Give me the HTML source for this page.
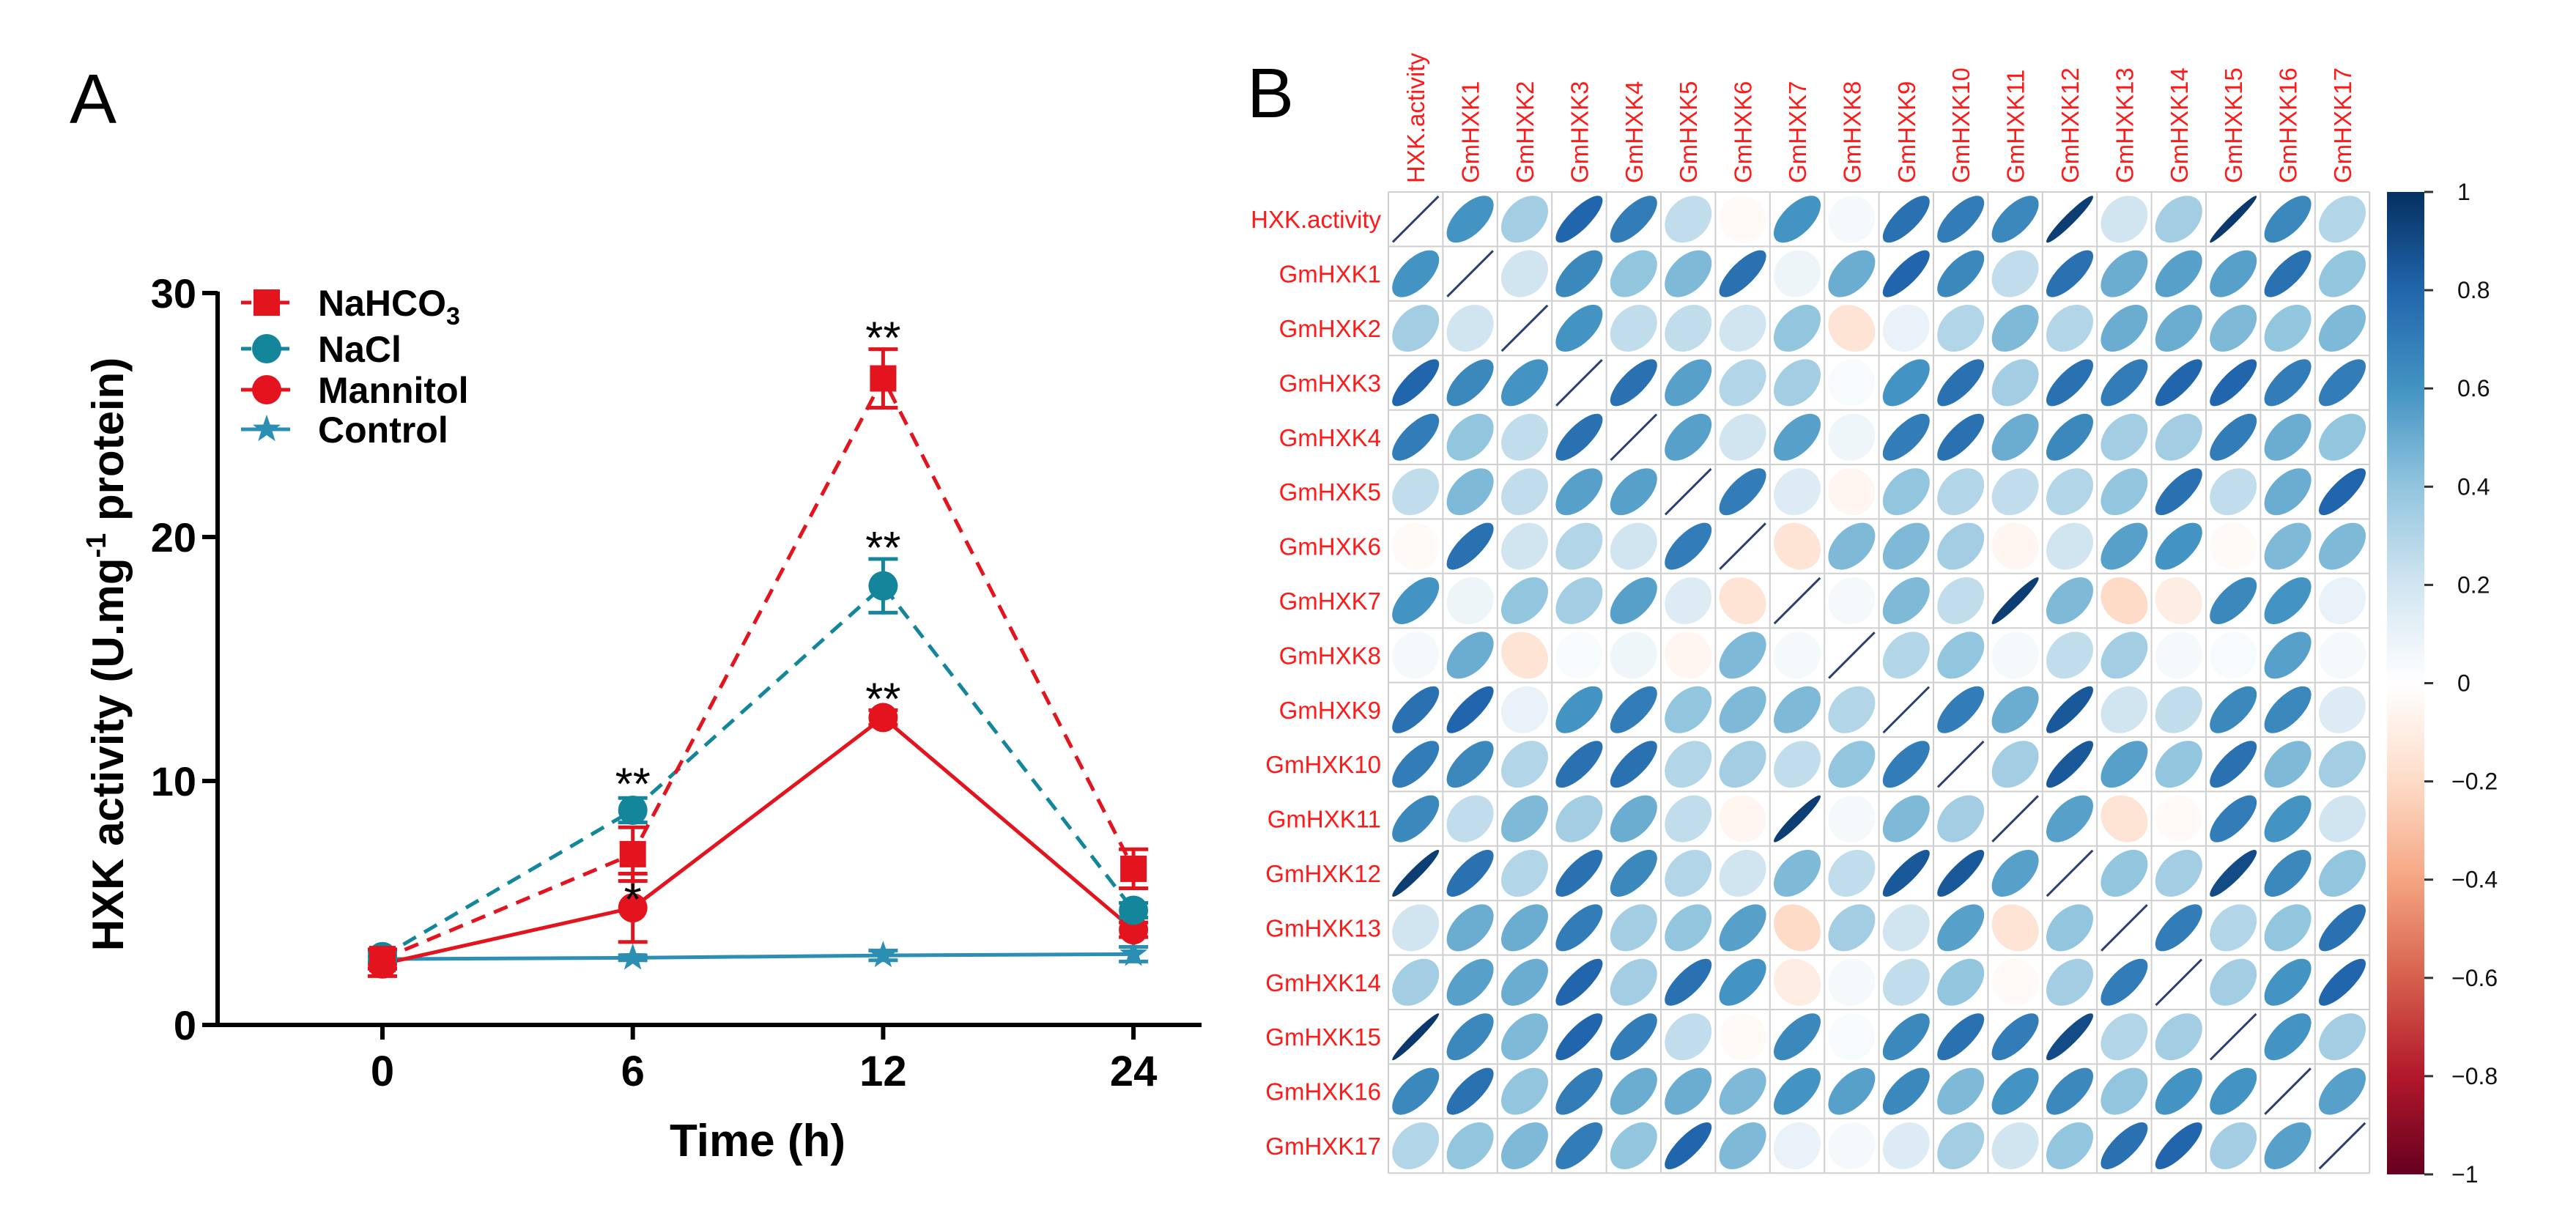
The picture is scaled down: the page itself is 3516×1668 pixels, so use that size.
<!DOCTYPE html>
<html><head><meta charset="utf-8"><style>
html,body{margin:0;padding:0;background:#fff}
svg{display:block}
text{font-family:"Liberation Sans",Arial,sans-serif}
</style></head><body>
<svg id="fig" width="3516" height="1668" viewBox="0 0 3516 1668" xmlns="http://www.w3.org/2000/svg">
<g id="panelA"></g>
<g id="panelB"></g>
</svg>
<script>
// ---------- Panel A data ----------
const timeLabels = ["0","6","12","24"];
const yTicks = [0,10,20,30];
const nahco3 = [2.7, 7.0, 26.5, 6.4];
const nahco3Err = [0.4, 1.1, 1.2, 0.8];
const nacl = [2.8, 8.8, 18.0, 4.7];
const naclErr = [0.2, 0.5, 1.1, 0.3];
const mannitol = [2.5, 4.8, 12.6, 3.9];
const mannitolErr = [0.5, 1.4, 0.3, 0.3];
const control = [2.7, 2.75, 2.85, 2.9];
const controlErr = [0.1, 0.1, 0.2, 0.3];
const sigLabels = [["**",1,"nacl"],["*",1,"mannitol"],["**",2,"nahco3"],["**",2,"nacl"],["**",2,"mannitol"]];

// ---------- Panel B data ----------
const geneNames = ["HXK.activity","GmHXK1","GmHXK2","GmHXK3","GmHXK4","GmHXK5","GmHXK6","GmHXK7","GmHXK8","GmHXK9","GmHXK10","GmHXK11","GmHXK12","GmHXK13","GmHXK14","GmHXK15","GmHXK16","GmHXK17"];
const corrMatrix = [
[1,.6,.35,.8,.7,.25,-.03,.6,.05,.75,.7,.65,.95,.2,.35,.97,.65,.3],
[.6,1,.2,.65,.4,.45,.75,.08,.5,.8,.65,.25,.75,.5,.55,.55,.75,.4],
[.35,.2,1,.6,.25,.25,.2,.4,-.15,.1,.3,.45,.3,.5,.5,.45,.4,.45],
[.8,.65,.6,1,.75,.55,.3,.35,.03,.6,.75,.35,.75,.7,.8,.8,.7,.7],
[.7,.4,.25,.75,1,.55,.2,.55,.07,.7,.75,.5,.65,.35,.35,.7,.5,.4],
[.25,.45,.25,.55,.55,1,.7,.15,-.05,.4,.3,.25,.3,.4,.75,.25,.5,.8],
[-.03,.75,.2,.3,.2,.7,1,-.15,.45,.45,.35,-.05,.2,.55,.6,-.03,.45,.45],
[.6,.08,.4,.35,.55,.15,-.15,1,.05,.45,.25,.95,.45,-.2,-.1,.65,.6,.1],
[.05,.5,-.15,.03,.07,-.05,.45,.05,1,.3,.4,.05,.25,.35,.05,.03,.55,.05],
[.75,.8,.1,.6,.7,.4,.45,.45,.3,1,.7,.5,.85,.2,.25,.65,.65,.15],
[.7,.65,.3,.75,.75,.3,.35,.25,.4,.7,1,.35,.85,.55,.4,.75,.45,.35],
[.65,.25,.45,.35,.5,.25,-.05,.95,.05,.45,.35,1,.55,-.15,-.03,.7,.6,.2],
[.95,.75,.3,.75,.65,.3,.2,.45,.25,.85,.85,.55,1,.4,.35,.9,.65,.4],
[.2,.5,.5,.7,.35,.4,.55,-.2,.35,.2,.55,-.15,.4,1,.7,.3,.4,.75],
[.35,.55,.5,.8,.35,.75,.6,-.1,.05,.25,.4,-.03,.35,.7,1,.35,.6,.8],
[.97,.65,.45,.8,.7,.25,-.03,.65,.03,.65,.75,.7,.9,.3,.35,1,.6,.35],
[.65,.75,.4,.7,.5,.5,.45,.6,.55,.65,.45,.6,.65,.4,.6,.6,1,.55],
[.3,.4,.45,.7,.4,.8,.45,.1,.05,.15,.35,.2,.4,.75,.8,.35,.55,1]];
const cbTicks = [1,0.8,0.6,0.4,0.2,0,-0.2,-0.4,-0.6,-0.8,-1];

const NS="http://www.w3.org/2000/svg";
function mk(parent,tag,attrs,txt){const e=document.createElementNS(NS,tag);for(const k in attrs)e.setAttribute(k,attrs[k]);if(txt!==undefined)e.textContent=txt;parent.appendChild(e);return e;}

// ===== Panel A =====
const A=document.getElementById('panelA');
const xA=i=>522+i*341.7;
const yA=v=>1399-v*(999/30);
const RED="#E3141E", TEAL="#13869C", CTRL="#2A8FB2";

let t=mk(A,'text',{x:95,y:168,'font-size':96,fill:'#000'},'A');



let ax=mk(A,'line',{x1:297,y1:398,x2:297,y2:1401,stroke:'#000','stroke-width':6});


ax=mk(A,'line',{x1:276,y1:1399,x2:1640,y2:1399,stroke:'#000','stroke-width':6});


yTicks.forEach(v=>{
  let l=mk(A,'line',{x1:276,y1:yA(v),x2:297,y2:yA(v),stroke:'#000','stroke-width':6});
  
  
  let tt=mk(A,'text',{x:268,y:yA(v)+20,'font-size':56,'font-weight':'bold','text-anchor':'end'},String(v));
  
  
});
timeLabels.forEach((lab,i)=>{
  let l=mk(A,'line',{x1:xA(i),y1:1399,x2:xA(i),y2:1419,stroke:'#000','stroke-width':6});
  
  
  let tt=mk(A,'text',{x:xA(i),y:1482,'font-size':58,'font-weight':'bold','text-anchor':'middle'},lab);
  
  
});
t=mk(A,'text',{x:1034,y:1578,'font-size':62,'font-weight':'bold','text-anchor':'middle'},'Time (h)');


t=mk(A,'text',{x:0,y:0,'font-size':60,'font-weight':'bold','text-anchor':'middle',transform:'translate(168,893) rotate(-90)'});


mk(t,'tspan',{},'HXK activity (U.mg');
mk(t,'tspan',{dy:-24,'font-size':38},'-1');
mk(t,'tspan',{dy:24},' protein)');

function marker(g,type,x,y,color){
  let m;
  if(type==='square') m=mk(g,'rect',{x:x-18,y:y-18,width:36,height:36,fill:color});
  else if(type==='circle') m=mk(g,'circle',{cx:x,cy:y,r:20,fill:color});
  else { let p=[];for(let k=0;k<10;k++){const r=k%2?8:20;const a=-Math.PI/2+k*Math.PI/5;p.push((x+r*Math.cos(a)).toFixed(1)+','+(y+r*Math.sin(a)).toFixed(1));}
    m=mk(g,'polygon',{points:p.join(' '),fill:color}); }
  return m;
}
const seriesList=[
 {name:'control',label:'Control',vals:control,err:controlErr,color:CTRL,dash:null,mk:'star'},
 {name:'mannitol',label:'Mannitol',vals:mannitol,err:mannitolErr,color:RED,dash:null,mk:'circle'},
 {name:'nacl',label:'NaCl',vals:nacl,err:naclErr,color:TEAL,dash:'20 13',mk:'circle'},
 {name:'nahco3',label:'NaHCO3',vals:nahco3,err:nahco3Err,color:RED,dash:'20 13',mk:'square'}];
seriesList.forEach(s=>{
  const g=mk(A,'g',{});
  
  
  const pts=s.vals.map((v,i)=>xA(i)+','+yA(v)).join(' ');
  const pl=mk(g,'polyline',{points:pts,fill:'none',stroke:s.color,'stroke-width':5});
  if(s.dash) pl.setAttribute('stroke-dasharray',s.dash);
  
  
  s.vals.forEach((v,i)=>{
    const x=xA(i),y1=yA(v+s.err[i]),y2=yA(v-s.err[i]);
    const eb=mk(g,'path',{d:`M${x},${y1}V${y2}M${x-20},${y1}H${x+20}M${x-20},${y2}H${x+20}`,stroke:s.color,'stroke-width':5,fill:'none'});
    
    
    const m=marker(g,s.mk,x,yA(v),s.color);
    
    
  });
});
const valsBy={nahco3,nacl,mannitol}, errBy={nahco3:nahco3Err,nacl:naclErr,mannitol:mannitolErr};
sigLabels.forEach(([s,i,k])=>{
  let yy = s==='*' ? yA(valsBy[k][i])+10 : yA(valsBy[k][i]+errBy[k][i])+6;
  if(k==='nacl'&&i===1) yy=yA(valsBy[k][i]+errBy[k][i])+2;
  const tt=mk(A,'text',{x:xA(i),y:yy,'font-size':62,'text-anchor':'middle'},s);
  
  
});
const legRows=[['nahco3','NaHCO',RED,'20 13','square'],['nacl','NaCl',TEAL,'20 13','circle'],['mannitol','Mannitol',RED,null,'circle'],['control','Control',CTRL,null,'star']];
const legYs=[413,476,532,586];
legRows.forEach((r,k)=>{
  const g=mk(A,'g',{});
  
  
  const y=legYs[k];
  const l=mk(g,'line',{x1:329,y1:y,x2:396,y2:y,stroke:r[2],'stroke-width':5});
  if(r[3]) l.setAttribute('stroke-dasharray','14 12');
  marker(g,r[4],364,y,r[2]);
  const tt=mk(g,'text',{x:434,y:y+18,'font-size':50,'font-weight':'bold'},r[1]);
  if(r[0]==='nahco3') mk(tt,'tspan',{dy:12,'font-size':34},'3');
});

// ===== Panel B =====
const B=document.getElementById('panelB');
const gx0=1895, gy0=262, cell=74.4, N=geneNames.length;
t=mk(B,'text',{x:1702,y:160,'font-size':96,fill:'#000'},'B');


const stops=[[-1,[103,0,31]],[-0.8,[178,24,43]],[-0.6,[214,96,77]],[-0.4,[244,165,130]],[-0.2,[253,219,199]],[0,[255,255,255]],[0.2,[209,229,240]],[0.4,[146,197,222]],[0.6,[67,147,195]],[0.8,[33,102,172]],[1,[5,48,97]]];
function col(r){for(let k=0;k<stops.length-1;k++){const[a,ca]=stops[k],[b,cb]=stops[k+1];if(r>=a&&r<=b){const f=(r-a)/(b-a);return 'rgb('+ca.map((c,j)=>Math.round(c+(cb[j]-c)*f)).join(',')+')';}}return 'rgb(5,48,97)';}
for(let i=0;i<=N;i++){
  mk(B,'line',{x1:gx0,y1:gy0+i*cell,x2:gx0+N*cell,y2:gy0+i*cell,stroke:'#cfcfcf','stroke-width':2});
  mk(B,'line',{x1:gx0+i*cell,y1:gy0,x2:gx0+i*cell,y2:gy0+N*cell,stroke:'#cfcfcf','stroke-width':2});
}
geneNames.forEach((nm,i)=>{
  let tt=mk(B,'text',{x:gx0-10,y:gy0+(i+0.5)*cell+12,'font-size':33,fill:'#FF1A1A','text-anchor':'end'},nm);
  
  
  const cx=gx0+(i+0.5)*cell+12;
  tt=mk(B,'text',{x:0,y:0,'font-size':33,fill:'#FF1A1A',transform:`translate(${cx},${gy0-12}) rotate(-90)`},nm);
  
  
});
const R=0.43*cell;
corrMatrix.forEach((row,i)=>row.forEach((r,j)=>{
  const cx=gx0+(j+0.5)*cell, cy=gy0+(i+0.5)*cell;
  let e;
  if(r>=0.999){
    const h=0.42*cell;
    e=mk(B,'line',{x1:cx-h,y1:cy+h,x2:cx+h,y2:cy-h,stroke:'#2B3F73','stroke-width':3});
  } else {
    const a=R*Math.sqrt(1+Math.abs(r)), b=R*Math.sqrt(1-Math.abs(r));
    e=mk(B,'ellipse',{cx:cx,cy:cy,rx:a,ry:b,fill:col(r),transform:`rotate(${r>=0?-45:45} ${cx} ${cy})`});
  }
  
  
}));
const cbx=3258, cbw=51, cby0=262, cby1=1603;
const defs=mk(B,'defs',{});
const lg=mk(defs,'linearGradient',{id:'cbg',x1:0,y1:0,x2:0,y2:1});
stops.slice().reverse().forEach(([v,c])=>mk(lg,'stop',{offset:((1-v)/2*100)+'%','stop-color':'rgb('+c.join(',')+')'}));
let cb=mk(B,'rect',{x:cbx,y:cby0,width:cbw,height:cby1-cby0,fill:'url(#cbg)'});


const yCb=v=>cby0+(1-v)/2*(cby1-cby0);
cbTicks.forEach(v=>{
  mk(B,'line',{x1:cbx+cbw,y1:yCb(v),x2:cbx+cbw+12,y2:yCb(v),stroke:'#333','stroke-width':3});
  const lab=v===0?'0':(v<0?'\u2212':'')+String(Math.abs(v));
  const tt=mk(B,'text',{x:(v>0||v===0)?3354:3346,y:yCb(v)+11,'font-size':32,fill:'#111'},lab);
  
  
});
</script>
</body></html>
